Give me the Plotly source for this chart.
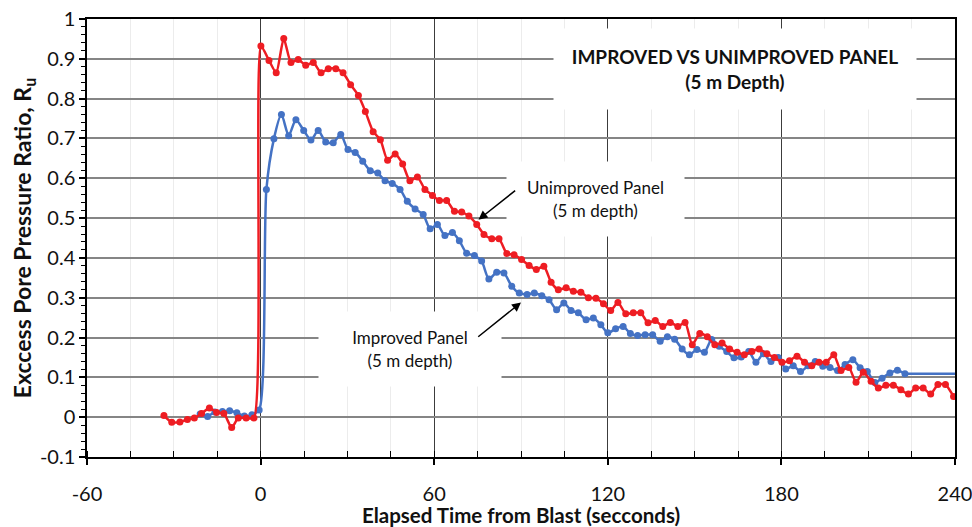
import plotly.graph_objects as go

# ---- data ----
red_t = [-33.4, -30.7, -27.9, -25.3, -22.9, -20.4, -17.7, -15.2, -12.7, -10.0, -7.7, -5.0, -2.3,
         0.1, 2.9, 5.4, 8.0, 10.5, 13.0, 15.6, 18.2, 20.9, 23.4, 26.0, 28.5, 31.1, 33.8, 36.2, 38.9,
         41.4, 43.9, 46.5, 49.1, 51.6, 54.2, 56.8, 59.4, 61.8, 64.3, 67.0, 69.5, 72.0, 74.7, 77.2,
         79.9, 82.4, 85.1, 87.6, 90.2, 92.8, 95.3, 97.9, 100.4, 102.9, 105.6, 108.1, 110.7, 113.3,
         115.9, 118.5, 121.0, 123.5, 126.2, 128.8, 131.4, 133.9, 136.4, 139.0, 141.6, 144.2, 146.7,
         149.2, 151.8, 154.4, 157.0, 159.5, 162.1, 164.7, 167.2, 169.8, 172.3, 175.0, 177.6, 180.2,
         182.8, 185.4, 188.0, 190.5, 193.0, 195.5, 198.1, 200.6, 203.3, 205.8, 208.3, 211.0, 213.5,
         216.1, 218.7, 221.3, 223.9, 226.4, 229.0, 231.6, 234.1, 236.7, 239.5]
red_ru = [0.004, -0.013, -0.012, -0.006, -0.002, 0.009, 0.023, 0.012, 0.009, -0.026, -0.002, -0.002, -0.002,
          0.932, 0.896, 0.865, 0.951, 0.891, 0.898, 0.884, 0.891, 0.865, 0.875, 0.875, 0.865, 0.835, 0.808,
          0.768, 0.717, 0.697, 0.645, 0.661, 0.636, 0.594, 0.603, 0.572, 0.557, 0.544, 0.544, 0.517, 0.515,
          0.505, 0.484, 0.459, 0.448, 0.448, 0.411, 0.408, 0.396, 0.381, 0.371, 0.379, 0.339, 0.320, 0.325,
          0.316, 0.314, 0.300, 0.299, 0.285, 0.268, 0.288, 0.260, 0.262, 0.262, 0.237, 0.243, 0.228, 0.238,
          0.228, 0.238, 0.182, 0.210, 0.202, 0.182, 0.186, 0.171, 0.163, 0.157, 0.165, 0.171, 0.159, 0.150,
          0.138, 0.142, 0.153, 0.138, 0.129, 0.138, 0.138, 0.157, 0.117, 0.125, 0.088, 0.113, 0.090, 0.073,
          0.080, 0.080, 0.069, 0.058, 0.073, 0.073, 0.058, 0.082, 0.082, 0.052]

blue_t = [-20.9, -18.3, -15.8, -13.2, -10.7, -8.2, -5.6, -3.0, -0.5,
          2.0, 4.6, 7.2, 9.7, 12.2, 14.9, 17.4, 19.9, 22.5, 25.1, 27.7, 30.2, 32.7, 35.3, 37.9, 40.5,
          43.0, 45.5, 48.2, 50.7, 53.4, 56.2, 58.6, 61.1, 63.7, 66.3, 68.7, 71.2, 73.9, 76.4, 78.9,
          81.6, 84.1, 86.8, 89.4, 92.1, 94.6, 97.2, 99.7, 102.3, 104.8, 107.3, 109.8, 112.5, 115.0,
          117.6, 120.0, 122.7, 125.3, 127.8, 130.3, 132.9, 135.5, 138.1, 140.6, 143.1, 145.7, 148.2,
          150.8, 153.4, 155.9, 158.5, 161.1, 163.6, 166.1, 168.7, 171.2, 173.8, 176.4, 178.9, 181.5,
          184.1, 186.6, 189.2, 191.7, 194.3, 196.8, 199.4, 202.0, 204.7, 207.2, 209.7, 212.3, 214.8,
          217.5, 220.1, 222.7]
blue_ru = [0.008, 0.002, 0.013, 0.014, 0.016, 0.011, 0.003, 0.006, 0.018,
           0.572, 0.699, 0.760, 0.707, 0.747, 0.720, 0.696, 0.720, 0.691, 0.689, 0.710, 0.672, 0.665,
           0.643, 0.619, 0.613, 0.594, 0.587, 0.572, 0.542, 0.523, 0.509, 0.473, 0.484, 0.456, 0.464,
           0.443, 0.412, 0.406, 0.392, 0.347, 0.364, 0.362, 0.329, 0.312, 0.308, 0.312, 0.305, 0.295,
           0.270, 0.287, 0.268, 0.262, 0.245, 0.249, 0.232, 0.212, 0.222, 0.228, 0.210, 0.205, 0.207,
           0.207, 0.191, 0.202, 0.196, 0.171, 0.157, 0.170, 0.163, 0.195, 0.178, 0.165, 0.149, 0.151,
           0.165, 0.138, 0.159, 0.140, 0.150, 0.121, 0.129, 0.115, 0.129, 0.140, 0.128, 0.125, 0.117,
           0.132, 0.144, 0.124, 0.115, 0.087, 0.098, 0.111, 0.118, 0.109]
# blue line is carried flat to the end of the axis without markers
blue_tail_t = [222.7, 240.0]
blue_tail_ru = [0.109, 0.109]

x_ticks = [-60, 0, 60, 120, 180, 240]
y_ticks = [-0.1, 0, 0.1, 0.2, 0.3, 0.4, 0.5, 0.6, 0.7, 0.8, 0.9, 1]
x_tick_text = ["-60", "0", "60", "120", "180", "240"]
y_tick_text = ["-0.1", "0", "0.1", "0.2", "0.3", "0.4", "0.5", "0.6", "0.7", "0.8", "0.9", "1"]

RED = "#EE1D23"
BLUE = "#4472C4"
FONT = "Lato"
TXT = "#111111"

fig = go.Figure()

fig.add_trace(go.Scatter(x=blue_tail_t, y=blue_tail_ru, mode="lines",
                         line=dict(color=BLUE, width=2.5), hoverinfo="skip"))
fig.add_trace(go.Scatter(x=blue_t, y=blue_ru, mode="lines+markers",
                         line=dict(color=BLUE, width=2.5, shape="spline", smoothing=0.7),
                         marker=dict(color=BLUE, size=7), name="Improved Panel"))
fig.add_trace(go.Scatter(x=red_t, y=red_ru, mode="lines+markers",
                         line=dict(color=RED, width=2.5, shape="spline", smoothing=0.6),
                         marker=dict(color=RED, size=7), name="Unimproved Panel"))

annos = []
annos.append(dict(xref="paper", yref="paper", x=0.7465, y=0.886, xanchor="center", yanchor="middle",
                  showarrow=False,
                  text="<b>IMPROVED VS UNIMPROVED PANEL</b><br><b>(5 m Depth)</b>",
                  font=dict(family=FONT, size=19, color=TXT), bgcolor="white",
                  width=360, height=78, align="center"))
annos.append(dict(xref="paper", yref="paper", x=0.5858, y=0.589, xanchor="center", yanchor="middle",
                  showarrow=False, text="Unimproved Panel<br>(5 m depth)",
                  font=dict(family=FONT, size=17, color=TXT), bgcolor="white",
                  width=175, height=72, align="center"))
annos.append(dict(xref="paper", yref="paper", x=0.372, y=0.2466, xanchor="center", yanchor="middle",
                  showarrow=False, text="Improved Panel<br>(5 m depth)",
                  font=dict(family=FONT, size=17, color=TXT), bgcolor="white",
                  width=180, height=72, align="center"))
annos.append(dict(xref="x", yref="y", x=75.3, y=0.496, axref="x", ayref="y", ax=88.5, ay=0.572,
                  text="", showarrow=True, arrowhead=2, arrowsize=1.2, arrowwidth=1.5, arrowcolor="black"))
annos.append(dict(xref="x", yref="y", x=90.0, y=0.288, axref="x", ayref="y", ax=74.7, ay=0.199,
                  text="", showarrow=True, arrowhead=2, arrowsize=1.2, arrowwidth=1.5, arrowcolor="black"))

fig.update_layout(
    width=972, height=527,
    margin=dict(l=87, r=17, t=19, b=70),
    paper_bgcolor="white", plot_bgcolor="white",
    showlegend=False,
    font=dict(family=FONT, size=20, color=TXT),
    annotations=annos,
    xaxis=dict(range=[-60, 240], tickmode="array", tickvals=x_ticks, ticktext=x_tick_text,
               automargin=False, ticklabeloverflow="allow",
               showgrid=True, gridcolor="#3c3c3c", gridwidth=1, zeroline=False,
               showline=True, linecolor="black", linewidth=1.5, mirror=True,
               ticks="outside", ticklen=6, tickcolor="black", tickwidth=1.5,
               ticklabelstandoff=12,
               tickfont=dict(family=FONT, size=20, color=TXT),
               minor=dict(tickmode="linear", tick0=-60, dtick=15, showgrid=True, gridcolor="#ececec",
                          gridwidth=1, ticks="inside", ticklen=6, tickcolor="black", tickwidth=1.2),
               title=dict(text="<b>Elapsed Time from Blast (secconds)</b>", standoff=6,
                          font=dict(family=FONT, size=20.5, color=TXT))),
    yaxis=dict(range=[-0.1, 1], tickmode="array", tickvals=y_ticks, ticktext=y_tick_text,
               automargin=False, ticklabeloverflow="allow",
               showgrid=True, gridcolor="#858585", gridwidth=1.5, zeroline=False,
               showline=True, linecolor="black", linewidth=1.5, mirror=True,
               ticks="outside", ticklen=6, tickcolor="black", tickwidth=1.5,
               ticklabelstandoff=0,
               tickfont=dict(family=FONT, size=20, color=TXT),
               minor=dict(tickmode="linear", tick0=-0.1, dtick=0.02, showgrid=False,
                          ticks="outside", ticklen=4, tickcolor="black", tickwidth=1.2),
               title=dict(text="<b>Exccess Pore Pressure Ratio, R<sub>u</sub></b>", standoff=2,
                          font=dict(family=FONT, size=23, color=TXT))),
)

# remove the browser's default page margin so the figure fills the window exactly
fig.write_html("out.html", config={"displayModeBar": False},
               post_script="document.body.style.margin='0px';document.body.style.overflow='hidden';")
